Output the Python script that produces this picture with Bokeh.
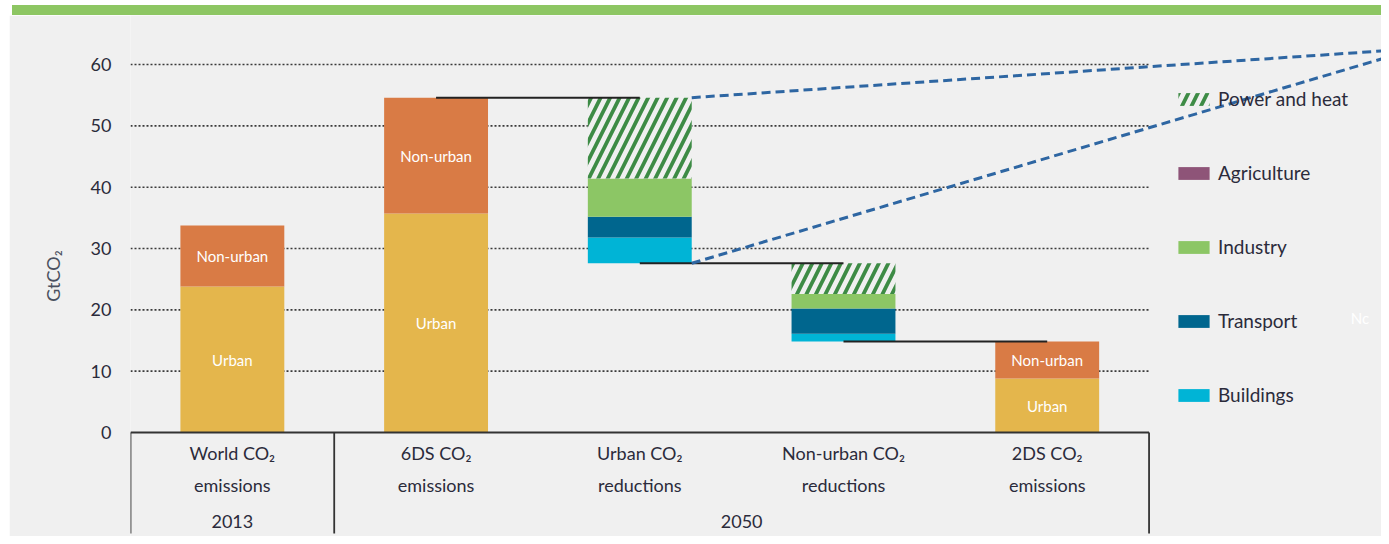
from bokeh.plotting import figure
from bokeh.models import ColumnDataSource, FixedTicker, Legend, LegendItem, Div, Range1d
from bokeh.layouts import column
from bokeh.core.properties import value
from bokeh.embed import file_html
from bokeh.resources import INLINE

# ---------------- data ----------------
cat_line1 = ["World CO₂", "6DS CO₂", "Urban CO₂", "Non-urban CO₂", "2DS CO₂"]
cat_line2 = ["emissions", "emissions", "reductions", "reductions", "emissions"]
years = ["2013", "2050"]
year_sizes = [1, 4]

# emission columns (category index) with urban / non-urban parts, GtCO2
emis_idx = [0, 1, 4]
urban = [23.8, 35.7, 8.8]
non_urban = [9.95, 18.9, 6.05]

# reduction columns (category index), by sector, GtCO2
red_idx = [2, 3]
buildings = [4.2, 1.25]
transport = [3.4, 4.1]
industry = [6.2, 2.4]
agriculture = [0.0, 0.0]
power_heat = [13.2, 5.0]

y_ticks = [0, 10, 20, 30, 40, 50, 60]
callout_target_y = [62.3, 61.3]

# ---------------- style ----------------
FONT = "Lato"
BG = "#f0f0f0"
C_URBAN = "#e4b64c"
C_NONURBAN = "#d97b45"
C_POWER = "#3d8b45"
C_AGRI = "#8e5478"
C_IND = "#8cc665"
C_TRANS = "#00668e"
C_BUILD = "#00b4d6"
TXT = "#2b2b3b"
BAR_W = 0.51
X_END = 5.641

p = figure(width=1372, height=521, output_backend="svg", toolbar_location=None,
           x_range=Range1d(-0.5, X_END), y_range=Range1d(-16.96, 68.0),
           x_axis_location=None, title=None, margin=(0, 0, 0, 9),
           min_border_left=121, min_border_right=0, min_border_top=0, min_border_bottom=0)
p.background_fill_color = BG
p.border_fill_color = BG
p.outline_line_color = None
p.xgrid.visible = False
p.ygrid.visible = False

# dotted grid lines (only over the category area)
grid_y = [t for t in y_ticks if t > 0]
n_cat = len(cat_line1)
p.segment(x0=[-0.5] * len(grid_y), x1=[n_cat - 0.5] * len(grid_y), y0=grid_y, y1=grid_y,
          line_color="#3a3a3a", line_width=1.6, line_dash="2 2")

# emission bars
src_e = ColumnDataSource(dict(
    x=emis_idx, urban=urban, total=[u + n for u, n in zip(urban, non_urban)],
    zero=[0] * len(emis_idx),
    umid=[u / 2 for u in urban],
    nmid=[u + n / 2 for u, n in zip(urban, non_urban)],
    lu=["Urban"] * len(emis_idx), ln=["Non-urban"] * len(emis_idx)))
p.vbar(x="x", width=BAR_W, bottom="zero", top="urban", source=src_e,
       fill_color=C_URBAN, line_color=None)
p.vbar(x="x", width=BAR_W, bottom="urban", top="total", source=src_e,
       fill_color=C_NONURBAN, line_color=None)
p.text(x="x", y="umid", text="lu", source=src_e, text_color="white",
       text_font=value(FONT), text_font_size="15px", text_align="center", text_baseline="middle")
p.text(x="x", y="nmid", text="ln", source=src_e, text_color="white",
       text_font=value(FONT), text_font_size="15px", text_align="center", text_baseline="middle")

# waterfall reductions
start_level = urban[1] + non_urban[1]
levels = [start_level]
bases = []
for i in range(len(red_idx)):
    tot = buildings[i] + transport[i] + industry[i] + agriculture[i] + power_heat[i]
    base = levels[-1] - tot
    bases.append(base)
    levels.append(base)

stack_order = [("Buildings", buildings, C_BUILD), ("Transport", transport, C_TRANS),
               ("Industry", industry, C_IND), ("Agriculture", agriculture, C_AGRI),
               ("Power and heat", power_heat, C_POWER)]
renderers = {}
bottoms = list(bases)
for name, vals, col in stack_order:
    tops = [b + v for b, v in zip(bottoms, vals)]
    src = ColumnDataSource(dict(x=red_idx, bottom=bottoms, top=tops))
    if name == "Power and heat":
        r = p.vbar(x="x", width=BAR_W, bottom="bottom", top="top", source=src,
                   fill_color=BG, line_color=None, hatch_pattern="/",
                   hatch_color=C_POWER, hatch_scale=19, hatch_weight=3.8)
    else:
        r = p.vbar(x="x", width=BAR_W, bottom="bottom", top="top", source=src,
                   fill_color=col, line_color=None)
    renderers[name] = r
    bottoms = tops

# connector lines
conn_x0 = [1] + red_idx
conn_x1 = red_idx + [emis_idx[-1]]
p.segment(x0=conn_x0, x1=conn_x1, y0=levels, y1=levels, line_color="#222222", line_width=2)

# callout dashed lines from urban reductions bar
cx = red_idx[0] + BAR_W / 2
p.segment(x0=[cx, cx], y0=[levels[0], levels[1]], x1=[5.68, 5.68], y1=callout_target_y,
          line_color="#2e66a2", line_width=3, line_dash="9 5")

# category axis box
bounds = [-0.5]
for s in year_sizes:
    bounds.append(bounds[-1] + s)
p.segment(x0=[-0.5], x1=[n_cat - 0.5], y0=[0], y1=[0], line_color="#333333", line_width=2)
p.segment(x0=bounds, x1=bounds, y0=[0] * len(bounds), y1=[-16.47] * len(bounds),
          line_color="#333333", line_width=1.8)

cat_src = ColumnDataSource(dict(x=list(range(n_cat)), y=[0] * n_cat, l1=cat_line1, l2=cat_line2))
p.text(x="x", y="y", text="l1", source=cat_src, y_offset=21, text_color=TXT,
       text_font=value(FONT), text_font_size="18px", text_align="center", text_baseline="middle")
p.text(x="x", y="y", text="l2", source=cat_src, y_offset=53, text_color=TXT,
       text_font=value(FONT), text_font_size="18px", text_align="center", text_baseline="middle")
year_x = [(bounds[i] + bounds[i + 1]) / 2 for i in range(len(years))]
year_src = ColumnDataSource(dict(x=year_x, y=[0] * len(years), t=years))
p.text(x="x", y="y", text="t", source=year_src, y_offset=89, text_color=TXT,
       text_font=value(FONT), text_font_size="18px", text_align="center", text_baseline="middle")

# cut-off label of the next panel
p.text(x=[5.49], y=[18.75], text=["Nc"], text_color="white", text_font=value(FONT),
       text_font_size="15px", text_baseline="middle")

# y axis
ax = p.yaxis[0]
ax.ticker = FixedTicker(ticks=y_ticks)
ax.axis_line_color = None
ax.major_tick_line_color = None
ax.minor_tick_line_color = None
ax.major_tick_out = 0
ax.major_tick_in = 0
ax.major_label_standoff = 19
ax.major_label_text_font = FONT
ax.major_label_text_font_size = "18px"
ax.major_label_text_color = TXT
ax.axis_label = "GtCO₂"
ax.axis_label_text_font = FONT
ax.axis_label_text_font_style = "normal"
ax.axis_label_text_font_size = "18px"
ax.axis_label_text_color = "#4a5060"
ax.axis_label_standoff = 24

# legend
legend_order = ["Power and heat", "Agriculture", "Industry", "Transport", "Buildings"]
legend = Legend(items=[LegendItem(label=n, renderers=[renderers[n]]) for n in legend_order],
                location=(1044, 130), orientation="vertical",
                glyph_width=39, glyph_height=16, label_height=16, spacing=51,
                label_standoff=5, padding=0, margin=0,
                border_line_color=None, background_fill_alpha=0,
                label_text_font=FONT, label_text_font_size="19px", label_text_color=TXT)
p.add_layout(legend)

bar = Div(text="", width=1369, height=10, margin=(5, 0, 0, 12),
          styles={"background-color": "#8dc663"})
layout = column(bar, p, spacing=0)
open("out.html", "w").write(file_html(layout, INLINE))
